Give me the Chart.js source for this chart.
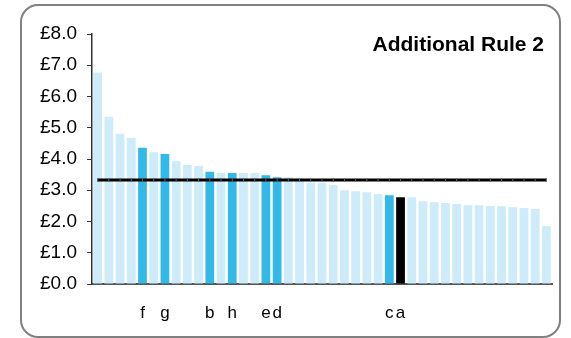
<!DOCTYPE html>
<html>
<head>
<meta charset="utf-8">
<script src="https://cdn.jsdelivr.net/npm/chart.js@4/dist/chart.umd.min.js"></script>
<style>
  body { margin: 0; background: #fff; }
  #wrap { position: relative; width: 571px; height: 338px; overflow: hidden; }
  #frame { position: absolute; left: 20px; top: 4px; width: 537px; height: 330px;
           border: 2px solid #808080; border-radius: 18px; }
  #myChart { position: absolute; left: 0; top: 0; }
</style>
</head>
<body>
<div id="wrap">
  <div id="frame"></div>
  <canvas id="myChart" width="571" height="338"></canvas>
</div>
<script>
// values, in pounds
var values = [6.77, 5.35, 4.81, 4.68, 4.36, 4.22, 4.16, 3.93, 3.81, 3.78,
              3.59, 3.55, 3.55, 3.55, 3.55, 3.48, 3.42, 3.42, 3.38, 3.24,
              3.24, 3.17, 3.00, 2.97, 2.94, 2.88, 2.84, 2.78, 2.78, 2.65,
              2.62, 2.59, 2.56, 2.52, 2.52, 2.49, 2.49, 2.46, 2.43, 2.40, 1.85]
var labels = ['', '', '', '', 'f', '', 'g', '', '', '',
              'b', '', 'h', '', '', 'e', 'd', '', '', '',
              '', '', '', '', '', '', 'c', 'a', '', '',
              '', '', '', '', '', '', '', '', '', '', '']
var average = 3.33
var title = 'Additional Rule 2'

var lightBlue = '#cdebf8'
var blue = '#33b9e8'

var barColors = labels.map(l => l == 'a' ? '#000000' : (l ? blue : lightBlue))
var avgLine = values.map(() => average)

// Title inside the plot ==>
var titlePlugin = {
    id: 'titleText',
    afterDraw(chart) {
        var c = chart.ctx
        c.save()
        c.font = 'bold 21px "Liberation Sans", Arial, sans-serif'
        c.fillStyle = '#000'
        c.textAlign = 'right'
        c.textBaseline = 'alphabetic'
        c.fillText(title, 544, 51)
        c.restore()
    }
}

Chart.defaults.font.family = '"Liberation Sans", Arial, sans-serif'
Chart.defaults.color = '#000'

new Chart(document.getElementById('myChart'), {
    type: 'bar',
    data: {
        labels: labels,
        datasets: [{
            type: 'line',
            data: avgLine,
            borderColor: '#000',
            borderWidth: 3,
            pointStyle: 'line',
            pointRotation: 90,
            pointRadius: 2,
            pointBorderColor: '#666',
            pointBorderWidth: 1,
            order: 0
        }, {
            data: values,
            backgroundColor: barColors,
            categoryPercentage: 1,
            barPercentage: 0.78,
            order: 1
        }]
    },
    options: {
        responsive: false,
        animation: false,
        layout: { padding: { top: 34, right: 19, left: 0, bottom: 0 } },
        plugins: { legend: { display: false }, tooltip: { enabled: false } },
        scales: {
            x: {
                grid: { display: false },
                border: { color: '#555', width: 2 },
                ticks: { autoSkip: false, maxRotation: 0, padding: 11, font: { size: 17 } },
                afterFit(s) { s.height = 54 }
            },
            y: {
                min: 0,
                max: 8,
                grid: { drawOnChartArea: false, drawTicks: true, tickLength: 5, color: '#333' },
                border: { color: '#333', width: 1.5 },
                ticks: {
                    stepSize: 1,
                    padding: 10,
                    font: { size: 19 },
                    callback: v => '£' + v.toFixed(1)
                },
                afterFit(s) { s.width = 92 }
            }
        }
    },
    plugins: [titlePlugin]
})
</script>
</body>
</html>
